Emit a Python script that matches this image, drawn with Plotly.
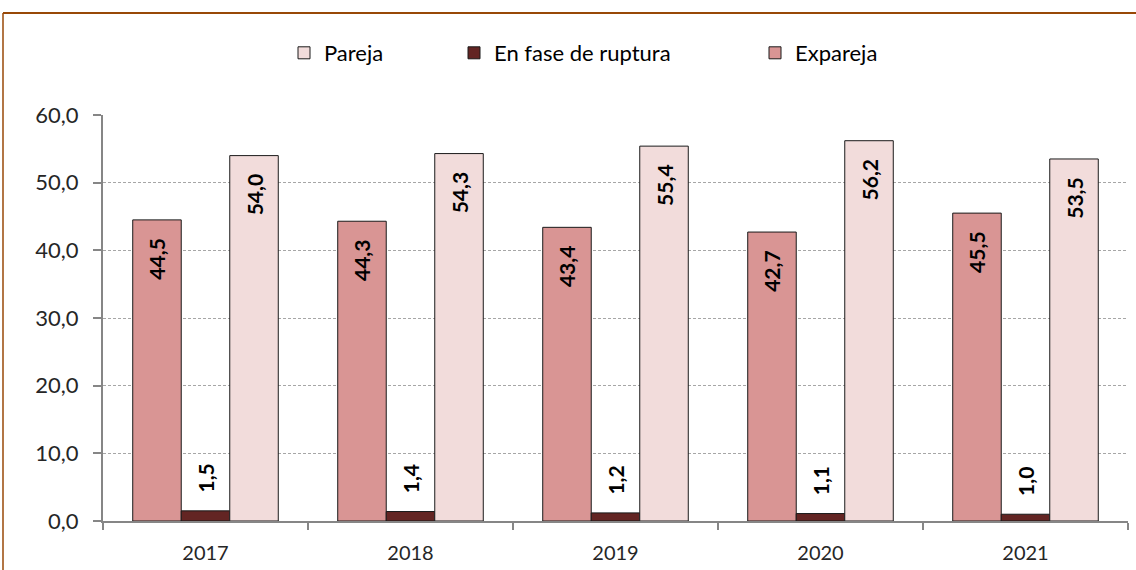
import plotly.graph_objects as go

years = ["2017", "2018", "2019", "2020", "2021"]
expareja = [44.5, 44.3, 43.4, 42.7, 45.5]
ruptura = [1.5, 1.4, 1.2, 1.1, 1.0]
pareja = [54.0, 54.3, 55.4, 56.2, 53.5]

font_family = "Lato, Open Sans, sans-serif"
NB = "\u00a0"
lab_font = dict(family=font_family, size=21, color="black", weight="bold")

L, R, T, B = 103, 8, 115, 49
W, H = 1136, 570
pw, ph = W - L - R, H - T - B

fig = go.Figure()
fig.add_trace(go.Bar(name="Expareja", x=years, y=expareja, legend="legend3",
                     marker=dict(color="#D99594", line=dict(color="#1a1a1a", width=1)),
                     texttemplate="%{y:.1f}" + NB * 3, textposition="inside", insidetextanchor="end",
                     textangle=-90, textfont=lab_font))
fig.add_trace(go.Bar(name="En fase de ruptura", x=years, y=ruptura, legend="legend2",
                     marker=dict(color="#632523", line=dict(color="#1a1a1a", width=1)),
                     texttemplate=NB * 3 + "%{y:.1f}", textposition="outside",
                     textangle=-90, textfont=lab_font, cliponaxis=False))
fig.add_trace(go.Bar(name="Pareja", x=years, y=pareja, legend="legend",
                     marker=dict(color="#F2DCDB", line=dict(color="#1a1a1a", width=1)),
                     texttemplate="%{y:.1f}" + NB * 3, textposition="inside", insidetextanchor="end",
                     textangle=-90, textfont=lab_font))

ly = (H - 53 - B) / ph
def leg(xpix):
    return dict(orientation="h", x=(xpix - L) / pw, xanchor="left", y=ly, yanchor="middle",
                font=dict(size=22, color="#000000"), itemwidth=30, bgcolor="rgba(0,0,0,0)")

fig.update_layout(
    width=W, height=H,
    margin=dict(l=L, r=R, t=T, b=B, autoexpand=False),
    paper_bgcolor="white", plot_bgcolor="white",
    barmode="group", bargap=0.29, bargroupgap=0,
    separators=",.",
    font=dict(family=font_family, size=20, color="#262626"),
    legend=leg(284), legend2=leg(454), legend3=leg(755),
    xaxis=dict(showline=True, linecolor="#868686", linewidth=2, ticks="outside",
               tickson="boundaries", ticklen=7, tickcolor="#868686", tickwidth=2,
               tickfont=dict(size=20, color="#262626"), showgrid=False, automargin=False,
               ticklabelstandoff=13),
    yaxis=dict(range=[0, 60], dtick=10, tickformat=".1f", showline=True, linecolor="#868686",
               linewidth=2, ticks="outside", ticklen=8, tickcolor="#868686", tickwidth=2,
               showgrid=True, gridcolor="#A6A6A6", griddash="3px,2px", gridwidth=1,
               tickfont=dict(size=22, color="#262626"), zeroline=False, automargin=False,
               ticklabelstandoff=10),
    showlegend=True,
)

# outer chart frame (top and left lines)
fx0 = (3 - L) / pw
fy0 = (H - 13 - B) / ph
fig.add_shape(type="line", xref="paper", yref="paper", x0=fx0, x1=(W - L + 5) / pw, y0=fy0, y1=fy0,
              line=dict(color="#984807", width=2))
fig.add_shape(type="line", xref="paper", yref="paper", x0=fx0, x1=fx0, y0=fy0, y1=-B / ph - 0.05,
              line=dict(color="#984807", width=1.5))

fig.write_html("out.html", config={"displayModeBar": False},
               post_script="document.body.style.margin='0';document.body.style.overflow='hidden';")
